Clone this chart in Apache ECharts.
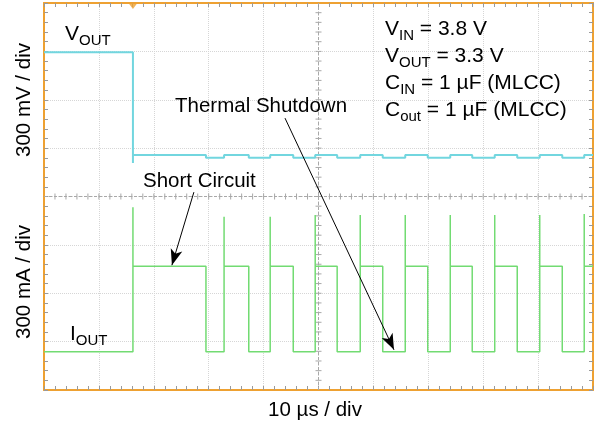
<!DOCTYPE html>
<html>
<head>
<meta charset="utf-8">
<script src="https://cdn.jsdelivr.net/npm/echarts@6/dist/echarts.min.js"></script>
<style>
  html, body { margin: 0; padding: 0; background: #fff; }
  #chart { width: 597px; height: 429px; }
</style>
</head>
<body>
<div id="chart"></div>
<script>
// time in µs (10 µs / div), levels in screen divisions counted from the bottom (8 div high)
const onTimes = [16.2, 32.8, 41.2, 49.4, 57.6, 65.8, 74.0, 82.1, 90.3, 98.4]
const offTimes = [29.5, 37.3, 45.4, 53.4, 61.7, 69.9, 78.0, 86.2, 94.4]
const spikePeaks = [3.78, 3.58, 3.58, 3.62, 3.62, 3.62, 3.62, 3.62, 3.62, 3.64]
const ioutLevels = [0.79, 2.56]             // off, on
const voutLevels = [6.98, 4.86, 4.80, 4.69] // normal, shorted, in shutdown, undershoot

const FONT = 'Arial, "Liberation Sans", sans-serif'
const ORANGE = '#eea132'
const CYAN = '#72d6df'
const GREEN = '#72db72'

function buildIout() {
  const [low, high] = ioutLevels
  const pts = [[0, low]]
  onTimes.forEach((t, i) => {
    pts.push([t, low], [t, spikePeaks[i]], [t, high])
    if (i < offTimes.length) pts.push([offTimes[i], high], [offTimes[i], low])
  })
  pts.push([100, high])
  return pts
}

function buildVout() {
  const [normal, shorted, dip, under] = voutLevels
  const t0 = onTimes[0]
  const pts = [[0, normal], [t0, normal], [t0, under], [t0, shorted]]
  offTimes.forEach((t, i) => {
    const back = onTimes[i + 1]
    pts.push([t, shorted], [t, dip], [back, dip], [back, shorted])
  })
  pts.push([100, shorted])
  return pts
}

const chart = echarts.init(document.getElementById('chart'))

const tickStyle = { color: '#9a9a9a', width: 1 }
const xBase = {
  type: 'value', min: 0, max: 100, interval: 10,
  axisLabel: { show: false },
  axisLine: { onZero: false, lineStyle: { color: ORANGE, width: 2 } },
  axisTick: { show: true, inside: true, length: 4, lineStyle: tickStyle },
  minorTick: { show: true, splitNumber: 5, length: 4, lineStyle: tickStyle },
}
const yBase = {
  type: 'value', min: 0, max: 8, interval: 1,
  axisLabel: { show: false },
  axisLine: { onZero: false, lineStyle: { color: ORANGE, width: 2 } },
  axisTick: { show: true, inside: true, length: 4, lineStyle: tickStyle },
  minorTick: { show: true, splitNumber: 5, length: 4, lineStyle: tickStyle },
}
const gridLine = { show: true, lineStyle: { color: '#d6d6d6', type: 'dotted', width: 1 } }

// centre crosshair with minor ticks, like the scope graticule
function renderCross(params, api) {
  const a = api.coord([0, 0]), b = api.coord([100, 8]), c = api.coord([50, 4])
  const line = { stroke: '#a8a8a8', lineWidth: 1, lineDash: [3, 2] }
  const children = [
    { type: 'line', shape: { x1: a[0], y1: c[1], x2: b[0], y2: c[1] }, style: line },
    { type: 'line', shape: { x1: c[0], y1: a[1], x2: c[0], y2: b[1] }, style: line },
  ]
  for (let t = 2; t < 100; t += 2) {
    const p = api.coord([t, 4])
    children.push({ type: 'line', shape: { x1: p[0], y1: p[1] - 3, x2: p[0], y2: p[1] + 3 }, style: { stroke: '#a8a8a8', lineWidth: 1 } })
  }
  for (let v = 0.2; v < 8; v += 0.2) {
    const p = api.coord([50, v])
    children.push({ type: 'line', shape: { x1: p[0] - 3, y1: p[1], x2: p[0] + 3, y2: p[1] }, style: { stroke: '#a8a8a8', lineWidth: 1 } })
  }
  return { type: 'group', children }
}

const richStyles = {
  m: { fontSize: 21, fontFamily: FONT, lineHeight: 23, verticalAlign: 'top', fill: '#000' },
  s: { fontSize: 15, fontFamily: FONT, lineHeight: 17, padding: [9, 0, 0, 0], verticalAlign: 'top', fill: '#000' },
}
function subText(x, y, main, sub, rest) {
  return {
    type: 'text', x, y, z: 10,
    style: {
      text: '{m|' + main + '}{s|' + sub + '}' + (rest ? '{m|' + rest + '}' : ''),
      rich: richStyles, align: 'left', verticalAlign: 'top',
    },
  }
}
function plainText(x, y, text, align, rotation) {
  return {
    type: 'text', x, y, z: 10, rotation: rotation || 0,
    style: { text, fontSize: 20.5, fontFamily: FONT, fill: '#000', align: align || 'left', verticalAlign: 'middle' },
  }
}

const arrowLine = (from, to) => [
  { coord: from, symbol: 'none' },
  { coord: to, symbol: 'arrow', symbolSize: [9, 16] },
]

chart.setOption({
  animation: false,
  backgroundColor: '#fff',
  grid: { left: 44, right: 4, top: 3, bottom: 39, containLabel: false },
  xAxis: [
    Object.assign({}, xBase, { position: 'bottom', splitLine: gridLine }),
    Object.assign({}, xBase, { position: 'top', splitLine: { show: false } }),
  ],
  yAxis: [
    Object.assign({}, yBase, { position: 'left', splitLine: gridLine }),
    Object.assign({}, yBase, { position: 'right', splitLine: { show: false } }),
  ],
  series: [
    { type: 'custom', renderItem: renderCross, data: [[50, 4]], silent: true, z: 1 },
    {
      name: 'VOUT', type: 'line', data: buildVout(), showSymbol: false, z: 3,
      lineStyle: { color: CYAN, width: 2 },
    },
    {
      name: 'IOUT', type: 'line', data: buildIout(), showSymbol: false, z: 3,
      lineStyle: { color: GREEN, width: 1.5 },
      markLine: {
        silent: true, animation: false,
        label: { show: false },
        lineStyle: { color: '#000', width: 1, type: 'solid' },
        emphasis: { disabled: true },
        data: [
          arrowLine([27.3, 4.09], [23.3, 2.58]),
          arrowLine([43.9, 5.62], [63.75, 0.83]),
        ],
      },
    },
    {
      name: 'trigger', type: 'scatter', data: [[onTimes[0], 8]], z: 5,
      symbol: 'triangle', symbolRotate: 180, symbolSize: [9, 6], symbolOffset: [0, 3],
      itemStyle: { color: ORANGE }, silent: true,
    },
  ],
  graphic: [
    subText(65, 24, 'V', 'OUT'),
    subText(70, 324, 'I', 'OUT'),
    subText(385, 19, 'V', 'IN', ' = 3.8 V'),
    subText(385, 46, 'V', 'OUT', ' = 3.3 V'),
    subText(385, 73, 'C', 'IN', ' = 1 µF (MLCC)'),
    subText(385, 100, 'C', 'out', ' = 1 µF (MLCC)'),
    plainText(175, 106, 'Thermal Shutdown'),
    plainText(143, 181, 'Short Circuit'),
    plainText(24, 100, '300 mV / div', 'center', Math.PI / 2),
    plainText(24, 282, '300 mA / div', 'center', Math.PI / 2),
    plainText(315, 410, '10 µs / div', 'center'),
  ],
})
</script>
</body>
</html>
